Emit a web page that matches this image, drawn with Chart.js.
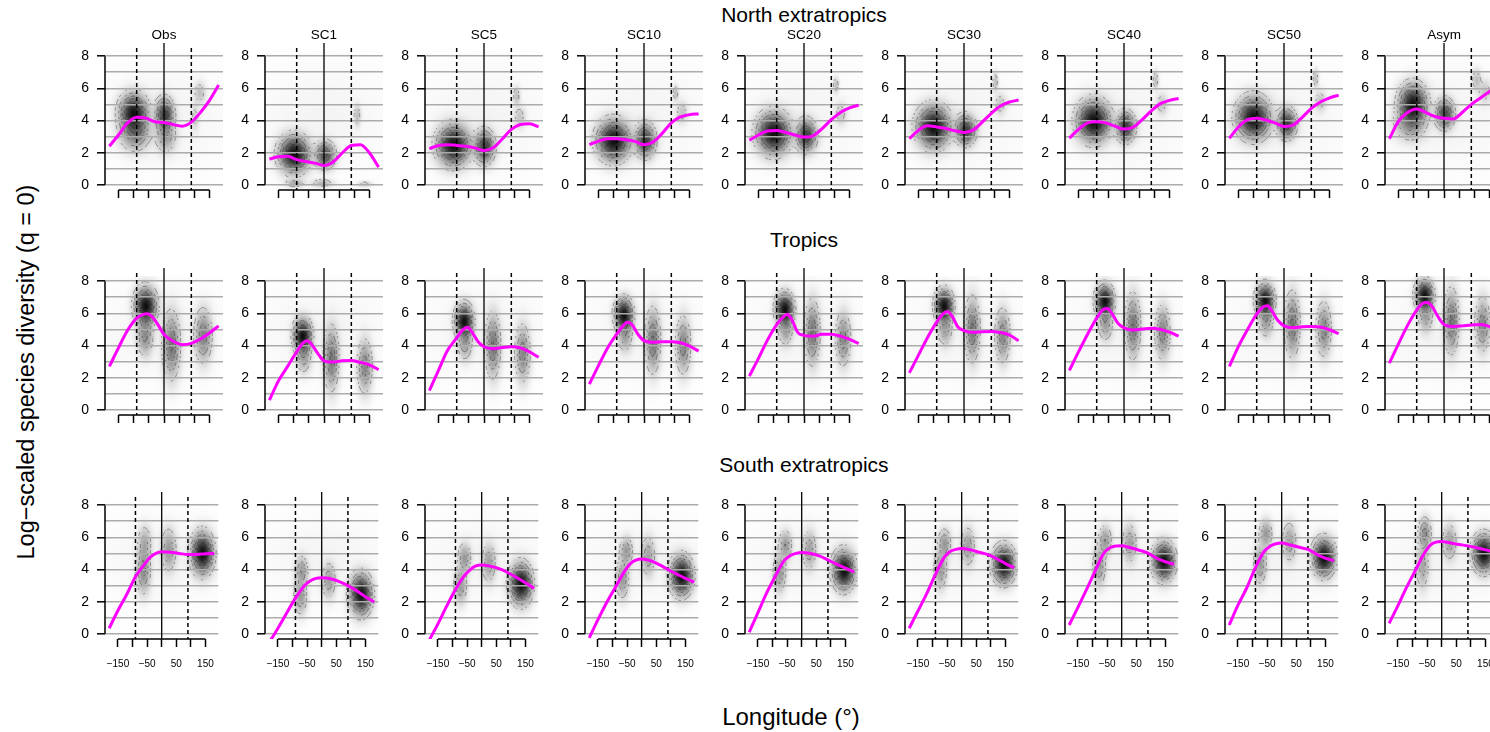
<!DOCTYPE html>
<html>
<head>
<meta charset="utf-8">
<title>Log-scaled species diversity by longitude</title>
<script src="https://cdn.jsdelivr.net/npm/chart.js@4.4.1/dist/chart.umd.min.js"></script>
<style>
  html, body { margin: 0; padding: 0; background: #fff; }
  #page { position: relative; width: 1490px; height: 732px; overflow: hidden;
          font-family: "Liberation Sans", Arial, Helvetica, sans-serif; color: #000; }
  .panel { position: absolute; }
  .lbl { position: absolute; white-space: nowrap; transform: translate(-50%, -50%); }
  .ylab { position: absolute; white-space: nowrap; transform: translate(-50%, -50%) rotate(-90deg); }
</style>
</head>
<body>
<div id="page">
  <div class="lbl" style="left:804px; top:15px; font-size:21px;">North extratropics</div>
  <div class="lbl" style="left:804px; top:240px; font-size:21px;">Tropics</div>
  <div class="lbl" style="left:804px; top:465px; font-size:21px;">South extratropics</div>
  <div class="ylab" style="left:26px; top:372px; font-size:23.5px;">Log&minus;scaled species diversity (q = 0)</div>
  <div class="lbl" style="left:791px; top:717px; font-size:24px;">Longitude (&deg;)</div>
</div>
<script>
// ---- scenarios (columns) and longitudes at which the fitted curves are tabulated ----
const SCENARIOS = ['Obs', 'SC1', 'SC5', 'SC10', 'SC20', 'SC30', 'SC40', 'SC50', 'Asym'];
const LON_N = [-180, -150, -120, -90, -60, -30, 0, 30, 60, 90, 120, 150, 180];
const LON_T = [-180, -150, -120, -90, -70, -55, -40, -20, 0, 30, 60, 90, 120, 150, 180];
const LON_S = [-180, -150, -120, -90, -60, -40, -20, 0, 30, 60, 90, 120, 150, 180];

// ---- fitted log-scaled diversity (magenta curves), one array per scenario ----
const northDiversity = [
  [2.4, 3.1, 3.85, 4.2, 4.15, 3.92, 3.88, 3.75, 3.65, 3.9, 4.5, 5.25, 6.2],
  [1.6, 1.75, 1.78, 1.57, 1.45, 1.35, 1.2, 1.42, 1.98, 2.45, 2.5, 1.98, 1.1],
  [2.25, 2.45, 2.5, 2.45, 2.4, 2.3, 2.13, 2.3, 2.85, 3.45, 3.75, 3.8, 3.6],
  [2.5, 2.72, 2.87, 2.87, 2.8, 2.7, 2.5, 2.66, 3.2, 3.85, 4.22, 4.36, 4.41],
  [2.77, 3.1, 3.35, 3.38, 3.25, 3.1, 2.97, 3.05, 3.5, 4.05, 4.5, 4.78, 4.95],
  [2.87, 3.4, 3.67, 3.6, 3.5, 3.36, 3.26, 3.4, 3.9, 4.45, 4.9, 5.15, 5.27],
  [2.9, 3.45, 3.85, 3.93, 3.85, 3.65, 3.47, 3.58, 4.05, 4.6, 5.05, 5.25, 5.37],
  [2.9, 3.6, 4.05, 4.14, 4.03, 3.85, 3.63, 3.72, 4.2, 4.75, 5.15, 5.4, 5.58],
  [2.87, 3.95, 4.5, 4.72, 4.5, 4.25, 4.14, 4.1, 4.5, 5.0, 5.4, 5.8, 6.2]
];
const tropicsDiversity = [
  [2.7, 3.85, 4.95, 5.7, 5.92, 5.97, 5.8, 5.3, 4.68, 4.27, 4.05, 4.13, 4.4, 4.78, 5.22],
  [0.6, 1.8, 2.7, 3.6, 4.15, 4.3, 4.05, 3.5, 3.05, 2.97, 3.05, 3.07, 2.95, 2.8, 2.5],
  [1.2, 2.45, 3.7, 4.47, 4.97, 5.13, 4.85, 4.25, 3.92, 3.8, 3.87, 3.93, 3.85, 3.6, 3.27],
  [1.6, 2.75, 3.85, 4.7, 5.2, 5.45, 5.3, 4.7, 4.3, 4.2, 4.23, 4.23, 4.17, 3.96, 3.65],
  [2.1, 3.2, 4.35, 5.3, 5.75, 5.95, 5.6, 4.8, 4.63, 4.58, 4.7, 4.7, 4.58, 4.38, 4.12],
  [2.3, 3.4, 4.5, 5.45, 5.95, 6.12, 5.85, 5.15, 4.93, 4.82, 4.86, 4.87, 4.8, 4.65, 4.3],
  [2.45, 3.6, 4.7, 5.7, 6.22, 6.3, 6.0, 5.38, 5.1, 4.97, 5.02, 5.07, 5.0, 4.83, 4.58],
  [2.7, 3.95, 5.0, 5.95, 6.38, 6.47, 6.15, 5.55, 5.22, 5.1, 5.16, 5.18, 5.15, 4.98, 4.74],
  [2.9, 4.1, 5.25, 6.2, 6.62, 6.68, 6.45, 5.8, 5.3, 5.18, 5.22, 5.28, 5.3, 5.18, 4.95]
];
const southDiversity = [
  [0.35, 1.45, 2.45, 3.55, 4.3, 4.75, 5.0, 5.1, 5.07, 5.0, 4.93, 4.93, 4.98, 5.0],
  [-0.55, 0.35, 1.3, 2.22, 2.98, 3.28, 3.45, 3.48, 3.42, 3.25, 3.0, 2.68, 2.3, 1.98],
  [-0.4, 0.62, 1.72, 2.75, 3.6, 3.98, 4.22, 4.28, 4.2, 4.05, 3.8, 3.5, 3.17, 2.82],
  [-0.25, 0.88, 1.95, 2.9, 3.85, 4.35, 4.58, 4.65, 4.55, 4.3, 4.0, 3.72, 3.45, 3.22],
  [0.1, 1.32, 2.55, 3.6, 4.55, 4.85, 5.0, 5.06, 5.0, 4.85, 4.6, 4.33, 4.08, 3.85],
  [0.35, 1.42, 2.5, 3.7, 4.75, 5.12, 5.25, 5.3, 5.22, 5.07, 4.92, 4.67, 4.37, 4.1],
  [0.55, 1.65, 2.78, 3.95, 5.05, 5.35, 5.46, 5.48, 5.35, 5.2, 5.02, 4.7, 4.48, 4.33],
  [0.55, 1.78, 2.85, 4.12, 5.12, 5.45, 5.6, 5.64, 5.52, 5.38, 5.25, 4.95, 4.7, 4.55],
  [0.66, 1.75, 2.9, 3.95, 5.0, 5.5, 5.7, 5.74, 5.65, 5.55, 5.47, 5.35, 5.23, 5.1]
];

// ---- point-density clusters: [longitude, diversity, sd longitude, sd diversity, weight] ----
const northDensity = [
  [[-100, 4.5, 22, 0.55, 1.0], [-95, 3.3, 24, 0.55, 0.45], [2, 4.35, 15, 0.5, 0.75], [6, 3.0, 17, 0.5, 0.25], [118, 5.7, 10, 0.35, 0.12], [103, 4.2, 7, 0.45, 0.08]],
  [[-98, 1.9, 24, 0.55, 1.0], [4, 1.85, 16, 0.4, 0.6], [-95, 0.1, 15, 0.13, 0.18], [-5, 0.1, 18, 0.13, 0.14], [135, 0.05, 12, 0.1, 0.08], [110, 4.3, 6, 0.35, 0.12]],
  [[-100, 2.45, 26, 0.6, 1.0], [2, 2.35, 16, 0.5, 0.7], [108, 5.5, 6, 0.3, 0.12], [118, 4.2, 10, 0.35, 0.1]],
  [[-100, 2.75, 26, 0.6, 1.0], [5, 2.75, 16, 0.5, 0.7], [105, 5.7, 5, 0.25, 0.12], [125, 4.5, 10, 0.35, 0.1]],
  [[-100, 3.2, 26, 0.62, 1.0], [8, 3.05, 16, 0.48, 0.7], [106, 6.2, 5, 0.25, 0.12], [122, 4.4, 10, 0.35, 0.1]],
  [[-100, 3.6, 26, 0.62, 1.0], [6, 3.4, 16, 0.45, 0.7], [104, 6.4, 5, 0.3, 0.12], [120, 5.0, 10, 0.35, 0.1]],
  [[-100, 3.95, 26, 0.62, 1.0], [6, 3.6, 15, 0.45, 0.7], [105, 6.5, 5, 0.3, 0.12], [125, 5.0, 10, 0.35, 0.1]],
  [[-100, 4.15, 26, 0.62, 1.0], [10, 3.8, 15, 0.45, 0.7], [105, 6.6, 5, 0.3, 0.12], [120, 5.2, 10, 0.35, 0.1]],
  [[-102, 5.0, 22, 0.6, 1.0], [-110, 3.8, 25, 0.5, 0.3], [3, 4.4, 15, 0.45, 0.65], [108, 6.5, 8, 0.35, 0.12], [135, 5.8, 12, 0.4, 0.1]]
];
const tropicsDensity = [
  [[-60, 6.45, 17, 0.55, 1.0], [-62, 4.6, 13, 0.6, 0.3], [25, 4.0, 14, 1.0, 0.4], [130, 4.6, 14, 0.8, 0.35]],
  [[-70, 4.6, 14, 0.5, 1.0], [-66, 3.3, 12, 0.5, 0.22], [25, 3.2, 12, 0.95, 0.4], [135, 2.7, 12, 0.8, 0.33]],
  [[-65, 5.5, 14, 0.5, 1.0], [-62, 4.1, 12, 0.5, 0.22], [30, 4.0, 12, 0.95, 0.4], [128, 3.5, 12, 0.85, 0.33]],
  [[-66, 5.9, 14, 0.48, 1.0], [-62, 4.6, 12, 0.5, 0.22], [30, 4.3, 12, 0.95, 0.4], [130, 4.0, 12, 0.85, 0.33]],
  [[-63, 6.25, 14, 0.48, 1.0], [-60, 5.0, 12, 0.5, 0.22], [28, 4.8, 12, 0.95, 0.4], [130, 4.4, 12, 0.8, 0.33]],
  [[-65, 6.45, 14, 0.48, 1.0], [-62, 5.0, 12, 0.5, 0.22], [28, 5.0, 12, 0.95, 0.4], [128, 4.6, 12, 0.8, 0.33]],
  [[-63, 6.75, 14, 0.48, 1.0], [-60, 5.3, 12, 0.5, 0.22], [30, 5.2, 12, 0.95, 0.4], [128, 4.8, 12, 0.8, 0.33]],
  [[-62, 6.8, 14, 0.48, 1.0], [-58, 5.5, 12, 0.5, 0.22], [28, 5.3, 12, 0.95, 0.4], [132, 5.0, 12, 0.8, 0.33]],
  [[-64, 7.1, 14, 0.45, 1.0], [-60, 5.8, 12, 0.5, 0.22], [25, 5.5, 12, 0.95, 0.4], [128, 5.3, 12, 0.8, 0.33]]
];
const southDensity = [
  [[-62, 3.9, 12, 0.7, 0.3], [-58, 5.6, 12, 0.55, 0.18], [25, 5.2, 13, 0.65, 0.25], [140, 5.0, 18, 0.62, 1.0]],
  [[-68, 3.9, 11, 0.45, 0.25], [-72, 2.3, 11, 0.55, 0.25], [25, 3.3, 12, 0.55, 0.22], [135, 2.45, 18, 0.6, 1.0]],
  [[-58, 4.7, 11, 0.45, 0.25], [-72, 3.0, 11, 0.55, 0.25], [25, 4.4, 12, 0.6, 0.22], [135, 3.1, 18, 0.6, 1.0]],
  [[-52, 5.1, 11, 0.45, 0.25], [-65, 3.4, 11, 0.6, 0.25], [23, 4.8, 12, 0.6, 0.22], [137, 3.6, 18, 0.58, 1.0]],
  [[-55, 5.5, 11, 0.45, 0.25], [-75, 3.8, 11, 0.6, 0.25], [27, 5.2, 12, 0.6, 0.22], [145, 3.95, 18, 0.58, 1.0]],
  [[-58, 5.6, 11, 0.45, 0.25], [-72, 4.0, 11, 0.6, 0.25], [22, 5.4, 12, 0.6, 0.22], [145, 4.3, 18, 0.55, 1.0]],
  [[-56, 5.8, 11, 0.45, 0.25], [-76, 4.2, 11, 0.6, 0.25], [28, 5.6, 12, 0.6, 0.22], [145, 4.5, 18, 0.55, 1.0]],
  [[-54, 6.2, 11, 0.45, 0.25], [-73, 4.3, 11, 0.6, 0.25], [27, 5.7, 12, 0.6, 0.22], [145, 4.75, 18, 0.55, 1.0]],
  [[-57, 6.2, 11, 0.5, 0.3], [-65, 4.2, 11, 0.7, 0.2], [28, 5.7, 12, 0.55, 0.22], [145, 5.0, 18, 0.55, 1.0]]
];
// faint background spread of each latitude band
const northHaze = [0, 4.2, 110, 1.7, 0.007];
const tropicsHaze = [0, 4.8, 110, 1.5, 0.007];
const southHaze = [10, 4.6, 110, 1.4, 0.007];

// ---- axes and reference meridians ----
const Y_TICKS = [0, 1, 2, 3, 4, 5, 6, 7, 8];
const X_TICKS = [-150, -100, -50, 0, 50, 100, 150];
const X_LABELLED = [-150, -50, 50, 150];
const DASHED_MERIDIANS = [-90, 90];
const SOLID_MERIDIAN = 0;
const CONTOUR_LEVELS = [0.05, 0.14, 0.25, 0.37, 0.5, 0.63, 0.77];
const BANDWIDTH = 1.1;

const ROWS = [
  { lon: LON_N, values: northDiversity, density: northDensity, haze: northHaze, titles: true },
  { lon: LON_T, values: tropicsDiversity, density: tropicsDensity, haze: tropicsHaze, titles: false },
  { lon: LON_S, values: southDiversity, density: southDensity, haze: southHaze, titles: false }
];

// ---- layout ----
const FONT = '"Liberation Sans", Arial, Helvetica, sans-serif';
const FIRST_AXIS_X = 105, COL_PITCH = 160;
const ROW_TOPS = [51, 276, 500];
const AREA_W = 118, AREA_H = 139, AXIS_W = 45, HEAD = 30, FOOT = 40, RIGHT_PAD = 2;

function densityAt(blobs, lon, val) {
  let s = 0;
  for (const b of blobs) {
    const dx = (lon - b[0]) / (b[2] * BANDWIDTH), dy = (val - b[1]) / (b[3] * BANDWIDTH);
    s += b[4] * Math.exp(-0.5 * (dx * dx + dy * dy));
  }
  return s;
}

const panelPlugin = {
  id: 'panel',
  beforeDraw(chart, args, o) {
    const { ctx, chartArea: a, scales: { x, y } } = chart;
    const w = Math.round(a.right - a.left), h = Math.round(a.bottom - a.top);
    const vals = new Float32Array(w * h);
    const haze = new Float32Array(w * h);
    let max = 0;
    for (let j = 0; j < h; j++) {
      const yv = y.getValueForPixel(a.top + j + 0.5);
      for (let i = 0; i < w; i++) {
        const xv = x.getValueForPixel(a.left + i + 0.5);
        const d = densityAt(o.blobs, xv, yv);
        vals[j * w + i] = d;
        haze[j * w + i] = densityAt([o.haze], xv, yv);
        if (d > max) max = d;
      }
    }
    // grey-scale density image
    const off = document.createElement('canvas');
    off.width = w; off.height = h;
    const octx = off.getContext('2d');
    const img = octx.createImageData(w, h);
    for (let k = 0; k < w * h; k++) {
      const t = Math.min(1, vals[k] / max + haze[k]);
      const g = Math.round(255 * (1 - 0.94 * Math.pow(t, 0.62)));
      img.data[4 * k] = g; img.data[4 * k + 1] = g; img.data[4 * k + 2] = g; img.data[4 * k + 3] = 255;
    }
    octx.putImageData(img, 0, 0);
    ctx.drawImage(off, a.left, a.top);

    // broken contour lines (marching squares)
    ctx.save();
    ctx.beginPath(); ctx.rect(a.left, a.top, w, h); ctx.clip();
    ctx.strokeStyle = 'rgba(25,25,25,0.45)';
    ctx.lineWidth = 0.8;
    const s = 2;
    for (const f of CONTOUR_LEVELS) {
      const L = f * max;
      ctx.beginPath();
      for (let j = 0; j + s < h; j += s) {
        for (let i = 0; i + s < w; i += s) {
          const va = vals[j * w + i], vb = vals[j * w + i + s];
          const vc = vals[(j + s) * w + i + s], vd = vals[(j + s) * w + i];
          const p = [];
          if ((va > L) !== (vb > L)) p.push([i + s * (L - va) / (vb - va), j]);
          if ((vb > L) !== (vc > L)) p.push([i + s, j + s * (L - vb) / (vc - vb)]);
          if ((vd > L) !== (vc > L)) p.push([i + s * (L - vd) / (vc - vd), j + s]);
          if ((va > L) !== (vd > L)) p.push([i, j + s * (L - va) / (vd - va)]);
          for (let k = 0; k + 1 < p.length; k += 2) {
            const mx = (p[k][0] + p[k + 1][0]) / 2, my = (p[k][1] + p[k + 1][1]) / 2;
            if ((Math.floor(mx / 3) + Math.floor(my / 3)) % 2) continue;
            ctx.moveTo(a.left + p[k][0], a.top + p[k][1]);
            ctx.lineTo(a.left + p[k + 1][0], a.top + p[k + 1][1]);
          }
        }
      }
      ctx.stroke();
    }
    ctx.restore();
  },
  beforeDatasetsDraw(chart) {
    const { ctx, chartArea: a, scales: { x, y } } = chart;
    ctx.save();
    ctx.strokeStyle = '#000';
    // dashed meridians
    ctx.lineWidth = 1.5;
    ctx.setLineDash([4, 3]);
    for (const m of DASHED_MERIDIANS) {
      const px = x.getPixelForValue(m);
      ctx.beginPath(); ctx.moveTo(px, a.top - 3); ctx.lineTo(px, a.bottom); ctx.stroke();
    }
    ctx.setLineDash([]);
    // solid prime meridian
    ctx.lineWidth = 1.3;
    const p0 = x.getPixelForValue(SOLID_MERIDIAN);
    ctx.beginPath(); ctx.moveTo(p0, a.top - 8); ctx.lineTo(p0, a.bottom); ctx.stroke();
    // axis lines spanning the tick range only
    ctx.lineWidth = 1.5;
    ctx.beginPath();
    ctx.moveTo(a.left, y.getPixelForValue(Y_TICKS[0]));
    ctx.lineTo(a.left, y.getPixelForValue(Y_TICKS[Y_TICKS.length - 1]));
    ctx.moveTo(x.getPixelForValue(X_TICKS[0]), a.bottom);
    ctx.lineTo(x.getPixelForValue(X_TICKS[X_TICKS.length - 1]), a.bottom);
    ctx.stroke();
    ctx.restore();
  },
  afterDraw(chart, args, o) {
    if (!o.title) return;
    const { ctx, chartArea: a } = chart;
    ctx.save();
    ctx.fillStyle = '#000';
    ctx.font = '13.5px ' + FONT;
    ctx.textAlign = 'center';
    ctx.textBaseline = 'middle';
    ctx.fillText(o.title, (a.left + a.right) / 2, a.top - 16);
    ctx.restore();
  }
};

const page = document.getElementById('page');
const fmtLon = v => (v < 0 ? '\u2212' + Math.abs(v) : String(v));

ROWS.forEach((row, r) => {
  SCENARIOS.forEach((name, c) => {
    const cv = document.createElement('canvas');
    const cw = AXIS_W + AREA_W + RIGHT_PAD, ch = HEAD + AREA_H + FOOT;
    cv.width = cw; cv.height = ch;
    cv.className = 'panel';
    cv.style.width = cw + 'px'; cv.style.height = ch + 'px';
    cv.style.left = (FIRST_AXIS_X + COL_PITCH * c - AXIS_W) + 'px';
    cv.style.top = (ROW_TOPS[r] - HEAD) + 'px';
    page.appendChild(cv);
    const lastRow = r === ROWS.length - 1;

    new Chart(cv, {
      type: 'line',
      data: {
        datasets: [{
          data: row.lon.map((lon, i) => ({ x: lon, y: row.values[c][i] })),
          borderColor: '#ff00ff',
          borderWidth: 3,
          pointRadius: 0,
          fill: false,
          cubicInterpolationMode: 'monotone'
        }]
      },
      options: {
        responsive: false,
        animation: false,
        devicePixelRatio: 1,
        events: [],
        layout: { padding: { left: 0, right: RIGHT_PAD, top: HEAD, bottom: 0 } },
        plugins: {
          legend: { display: false },
          tooltip: { enabled: false },
          panel: { blobs: row.density[c], haze: row.haze, title: row.titles ? name : '' }
        },
        scales: {
          x: {
            type: 'linear', min: -194.4, max: 194.4,
            afterBuildTicks: s => { s.ticks = X_TICKS.map(v => ({ value: v })); },
            afterFit: s => { s.height = FOOT; },
            grid: { drawOnChartArea: false, drawTicks: true, tickLength: 8, tickColor: '#000', tickWidth: 1.5 },
            border: { display: false },
            ticks: {
              autoSkip: false, maxRotation: 0, minRotation: 0, padding: 11, color: '#000',
              font: { family: FONT, size: 10 },
              callback: v => (lastRow && X_LABELLED.includes(v) ? fmtLon(v) : '')
            }
          },
          y: {
            type: 'linear', min: -0.32, max: 8.32,
            afterBuildTicks: s => { s.ticks = Y_TICKS.map(v => ({ value: v })); },
            afterFit: s => { s.width = AXIS_W; },
            grid: {
              color: '#ababab', lineWidth: 1.6, drawTicks: true, tickLength: 8, tickWidth: 1.5,
              tickColor: ctx => (ctx.tick && ctx.tick.value % 2 === 0 ? '#000' : 'rgba(0,0,0,0)')
            },
            border: { display: false },
            ticks: {
              autoSkip: false, padding: 8, color: '#000',
              font: { family: FONT, size: 14 },
              callback: v => (v % 2 === 0 ? String(v) : '')
            }
          }
        }
      },
      plugins: [panelPlugin]
    });
  });
});
</script>
</body>
</html>
